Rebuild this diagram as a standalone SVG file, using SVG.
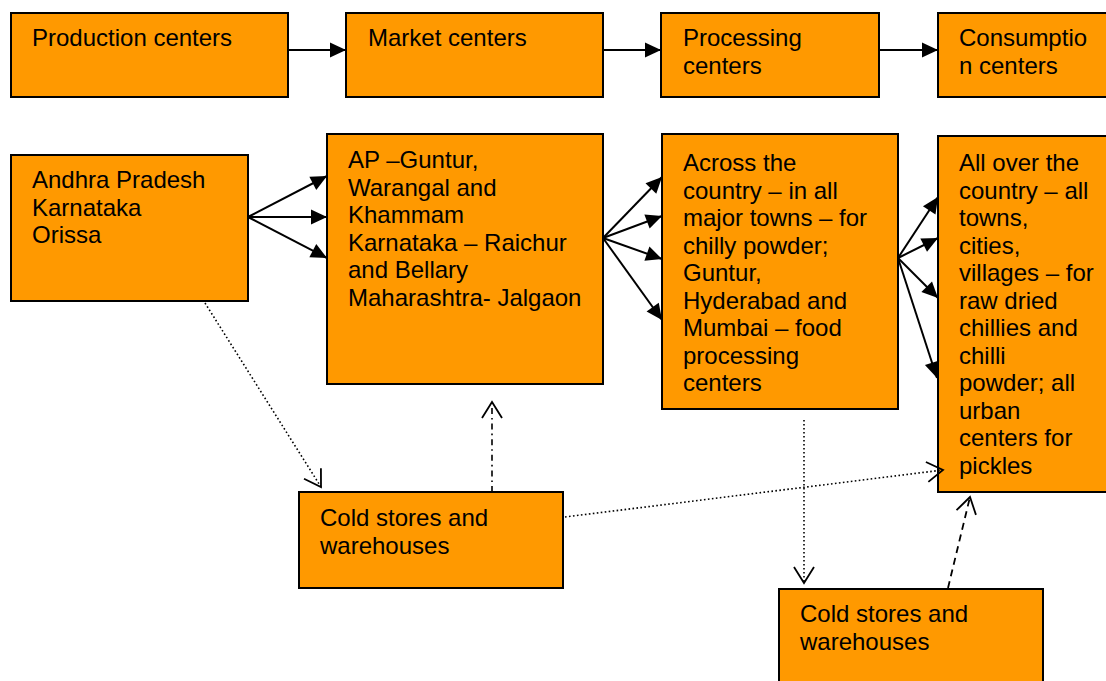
<svg xmlns="http://www.w3.org/2000/svg" width="1106" height="681" viewBox="0 0 1106 681">
  <style>
    .box { fill: #FF9900; stroke: #000000; stroke-width: 2; }
    .label { font-family: "Liberation Sans", Arial, sans-serif; font-size: 24px; fill: #000000; }
    .solid { stroke: #000000; stroke-width: 2; fill: none; marker-end: url(#filled); }
    .dotted { stroke: #000000; stroke-width: 1.6; fill: none; stroke-dasharray: 1.6 2.4; marker-end: url(#open); }
    .dashdot { stroke: #000000; stroke-width: 1.6; fill: none; stroke-dasharray: 6 4 1.6 4; marker-end: url(#open); }
    .dashed { stroke: #000000; stroke-width: 1.8; fill: none; stroke-dasharray: 7 5; marker-end: url(#open); }
  </style>
  <defs>
    <marker id="filled" markerUnits="userSpaceOnUse" markerWidth="17" markerHeight="15" refX="16" refY="7.5" orient="auto" overflow="visible">
      <path d="M0,0 L16,7.5 L0,15 Z" fill="#000000" stroke="none"/>
    </marker>
    <marker id="open" markerUnits="userSpaceOnUse" markerWidth="20" markerHeight="22" refX="17" refY="10" orient="auto" overflow="visible">
      <path d="M1,0 L17,10 L1,20" fill="none" stroke="#000000" stroke-width="1.8" stroke-dasharray="none"/>
    </marker>
  </defs>

  <rect width="1106" height="681" fill="#FFFFFF"/>

  <!-- top row: stages of the chain -->
  <g id="production-centers">
    <rect class="box" x="11" y="13" width="277" height="84"/>
    <text class="label" x="32" y="46">Production centers</text>
  </g>
  <g id="market-centers">
    <rect class="box" x="346" y="13" width="257" height="84"/>
    <text class="label" x="368" y="46">Market centers</text>
  </g>
  <g id="processing-centers">
    <rect class="box" x="661" y="13" width="218" height="84"/>
    <text class="label" x="683" y="46">Processing</text>
    <text class="label" x="683" y="73.5">centers</text>
  </g>
  <g id="consumption-centers">
    <rect class="box" x="938" y="13" width="180" height="84"/>
    <text class="label" x="959" y="46">Consumptio</text>
    <text class="label" x="959" y="73.5">n centers</text>
  </g>

  <!-- second row: locations -->
  <g id="production-states">
    <rect class="box" x="11" y="155" width="237" height="146"/>
    <text class="label" x="32" y="188">Andhra Pradesh</text>
    <text class="label" x="32" y="215.5">Karnataka</text>
    <text class="label" x="32" y="243">Orissa</text>
  </g>
  <g id="market-towns">
    <rect class="box" x="327" y="134" width="276" height="250"/>
    <text class="label" x="348" y="168">AP –Guntur,</text>
    <text class="label" x="348" y="195.5">Warangal and</text>
    <text class="label" x="348" y="223">Khammam</text>
    <text class="label" x="348" y="250.5">Karnataka – Raichur</text>
    <text class="label" x="348" y="278">and Bellary</text>
    <text class="label" x="348" y="305.5">Maharashtra- Jalgaon</text>
  </g>
  <g id="processing-towns">
    <rect class="box" x="662" y="134" width="236" height="275"/>
    <text class="label" x="683" y="171">Across the</text>
    <text class="label" x="683" y="198.5">country – in all</text>
    <text class="label" x="683" y="226">major towns – for</text>
    <text class="label" x="683" y="253.5">chilly powder;</text>
    <text class="label" x="683" y="281">Guntur,</text>
    <text class="label" x="683" y="308.5">Hyderabad and</text>
    <text class="label" x="683" y="336">Mumbai – food</text>
    <text class="label" x="683" y="363.5">processing</text>
    <text class="label" x="683" y="391">centers</text>
  </g>
  <g id="consumption-places">
    <rect class="box" x="938" y="136" width="180" height="356"/>
    <text class="label" x="959" y="171">All over the</text>
    <text class="label" x="959" y="198.5">country – all</text>
    <text class="label" x="959" y="226">towns,</text>
    <text class="label" x="959" y="253.5">cities,</text>
    <text class="label" x="959" y="281">villages – for</text>
    <text class="label" x="959" y="308.5">raw dried</text>
    <text class="label" x="959" y="336">chillies and</text>
    <text class="label" x="959" y="363.5">chilli</text>
    <text class="label" x="959" y="391">powder; all</text>
    <text class="label" x="959" y="418.5">urban</text>
    <text class="label" x="959" y="446">centers for</text>
    <text class="label" x="959" y="473.5">pickles</text>
  </g>
  <g id="cold-stores-1">
    <rect class="box" x="299" y="492" width="264" height="96"/>
    <text class="label" x="320" y="526">Cold stores and</text>
    <text class="label" x="320" y="553.5">warehouses</text>
  </g>
  <g id="cold-stores-2">
    <rect class="box" x="779" y="589" width="264" height="100"/>
    <text class="label" x="800" y="622">Cold stores and</text>
    <text class="label" x="800" y="649.5">warehouses</text>
  </g>

  <!-- connectors -->
  <g id="connectors">
    <line class="solid" x1="288" y1="50" x2="346" y2="50"/>
    <line class="solid" x1="603" y1="50" x2="661" y2="50"/>
    <line class="solid" x1="879" y1="50" x2="938" y2="50"/>

    <line class="solid" x1="248" y1="217" x2="327" y2="176"/>
    <line class="solid" x1="248" y1="217" x2="327" y2="217"/>
    <line class="solid" x1="248" y1="217" x2="327" y2="258"/>

    <line class="solid" x1="603" y1="238" x2="662" y2="177"/>
    <line class="solid" x1="603" y1="238" x2="662" y2="216"/>
    <line class="solid" x1="603" y1="238" x2="662" y2="259"/>
    <line class="solid" x1="603" y1="238" x2="662" y2="320"/>

    <line class="solid" x1="898" y1="258" x2="938" y2="197"/>
    <line class="solid" x1="898" y1="258" x2="938" y2="238"/>
    <line class="solid" x1="898" y1="258" x2="938" y2="298"/>
    <line class="solid" x1="898" y1="258" x2="937" y2="378"/>

    <line class="dotted" x1="205" y1="303" x2="321" y2="487"/>
    <line class="dashdot" x1="492" y1="492" x2="492" y2="402"/>
    <line class="dotted" x1="565" y1="517" x2="943" y2="470"/>
    <line class="dotted" x1="804" y1="420" x2="804" y2="583"/>
    <line class="dashed" x1="948" y1="588" x2="970" y2="497"/>
  </g>
</svg>
